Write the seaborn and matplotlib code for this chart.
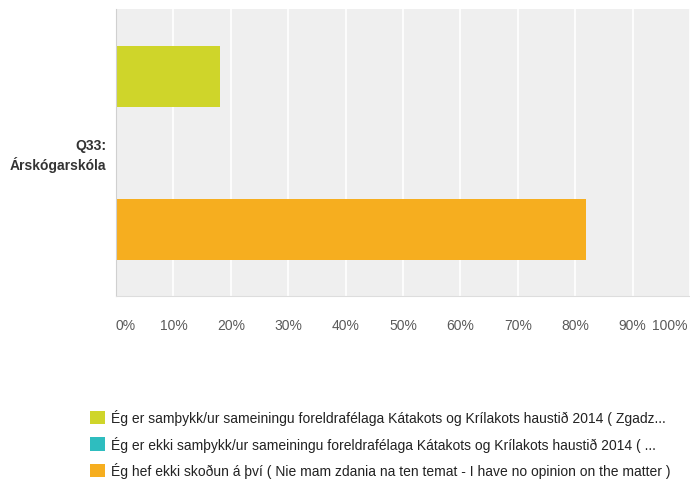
import matplotlib
matplotlib.use("Agg")
import matplotlib.pyplot as plt
import seaborn as sns
import numpy as np

# Survey answers (share of respondents, %)
answers = [
    "Ég er samþykk/ur sameiningu foreldrafélaga Kátakots og Krílakots haustið 2014 ( Zgadz...",
    "Ég er ekki samþykk/ur sameiningu foreldrafélaga Kátakots og Krílakots haustið 2014 ( ...",
    "Ég hef ekki skoðun á því ( Nie mam zdania na ten temat - I have no opinion on the matter )",
]
shares = [18.18, 0.0, 81.82]
colors = ["#cfd52a", "#2ebdbf", "#f6ae1f"]
question = "Q33:\nÁrskógarskóla"
ticks = [0, 10, 20, 30, 40, 50, 60, 70, 80, 90, 100]

sns.set_style("white")
plt.rcParams["font.family"] = ["Liberation Sans", "DejaVu Sans"]

fig = plt.figure(figsize=(6.9, 4.81), dpi=100)
ax = fig.add_axes([116 / 690, 1 - 297 / 481, 574 / 690, 287 / 481])
ax.set_facecolor("#efefef")

sns.barplot(x=shares, y=answers, hue=answers, palette=colors, orient="h",
            width=0.8, dodge=False, legend=True, ax=ax, saturation=1, linewidth=0)

ax.set_xlim(0, 100)
ax.set_ylim(2.87, -0.88)
ax.set_xticks(ticks)
# last label is drawn separately so it can sit inside the figure edge
ax.set_xticklabels([f"{t}%" for t in ticks[:-1]] + [""], color="#5a5a5a", fontsize=10)
ax.get_xticklabels()[0].set_ha("left")
ax.annotate(f"{ticks[-1]}%", xy=(ticks[-1], 0), xycoords=("data", "axes fraction"),
            xytext=(-2, -16), textcoords="offset points", ha="right", va="top",
            color="#5a5a5a", fontsize=10)
ax.tick_params(axis="x", length=0, pad=16)
ax.set_yticks([])
ax.set_ylabel("")
ax.grid(axis="x", color="white", linewidth=1.2)
ax.set_axisbelow(True)
for side in ["top", "right"]:
    ax.spines[side].set_visible(False)
ax.spines["left"].set_color("#d0d0d0")
ax.spines["bottom"].set_color("#dddddd")

fig.text(106 / 690, 1 - 156 / 481, question, ha="right", va="center",
         fontsize=10, fontweight="bold", color="#333333", linespacing=1.3)

# Legend below the chart
handles, lbls = ax.get_legend_handles_labels()
ax.get_legend().remove()
fig.legend(handles, lbls, loc="upper left", bbox_to_anchor=(77 / 690, 1 - 398 / 481),
           frameon=False, fontsize=10, handlelength=1.1, handleheight=1.1,
           handletextpad=0.45, labelspacing=0.74, labelcolor="#222222")

fig.savefig("out.png", dpi=100)
